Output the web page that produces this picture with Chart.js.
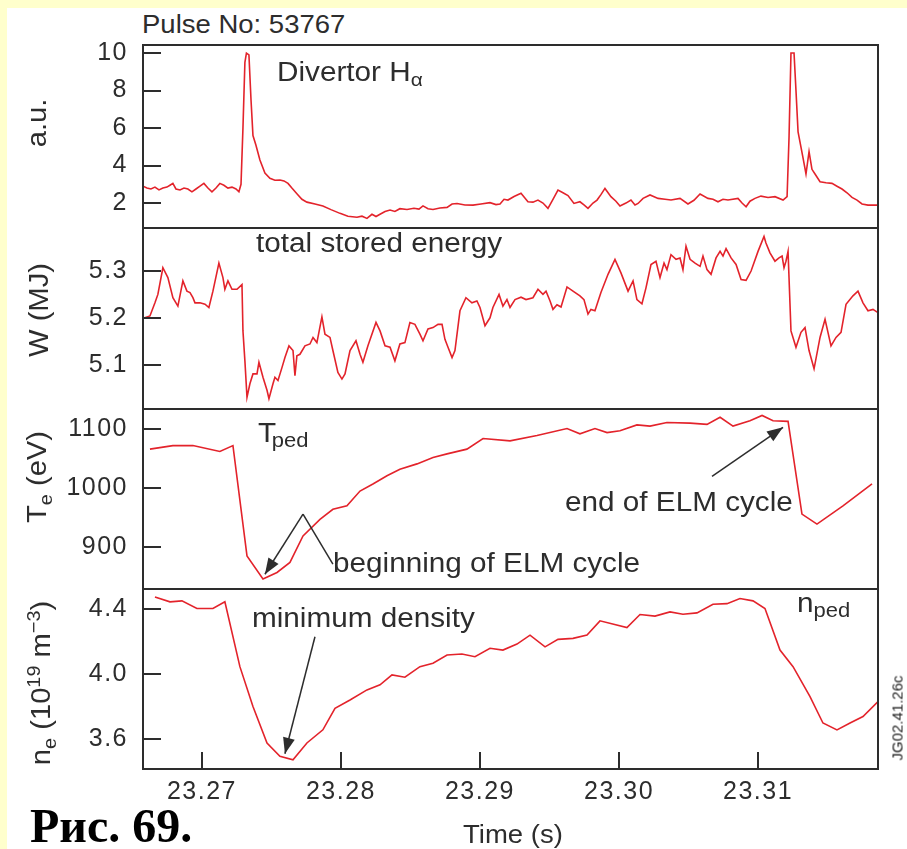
<!DOCTYPE html>
<html>
<head>
<meta charset="utf-8">
<script src="https://cdn.jsdelivr.net/npm/chart.js@4.4.1/dist/chart.umd.min.js"></script>
<style>
  html, body { margin: 0; padding: 0; }
  body { width: 907px; height: 849px; position: relative; overflow: hidden; background: #ffffcc; }
  #sheet { position: absolute; left: 7px; top: 8px; width: 900px; height: 841px; background: #fff; }
  canvas { position: absolute; left: 0; }
  .lbl, .ytitle {
    position: absolute; white-space: nowrap; line-height: 1; color: #2d2d2d;
    font-family: 'Liberation Sans', Arial, Helvetica, sans-serif; font-size: 27px;
  }
  .lbl { transform: scaleX(1.1); transform-origin: 0 0; }
  .ytitle { transform: translate(-50%, -50%) rotate(-90deg) scaleX(1.08); }
  .s { position: relative; top: 5px; font-size: 20px; }
  .ytitle sub, .ytitle sup { font-size: 0.68em; line-height: 0; }
  #fig { position: absolute; left: 30px; top: 802px; font-family: 'Liberation Serif', 'Times New Roman', serif;
         font-weight: bold; font-size: 48px; line-height: 1; color: #000; white-space: nowrap; }
  #code { position: absolute; left: 897px; top: 718px; transform: translate(-50%, -50%) rotate(-90deg);
          font-family: 'Liberation Sans', Arial, sans-serif; font-size: 15px; line-height: 1; color: #222; white-space: nowrap; }
</style>
</head>
<body>
<div id="sheet"></div>
<canvas id="cHa" width="907" height="193" style="top:40px;width:907px;height:193px"></canvas>
<canvas id="cW" width="907" height="191" style="top:223px;width:907px;height:191px"></canvas>
<canvas id="cTe" width="907" height="190" style="top:404px;width:907px;height:190px"></canvas>
<canvas id="cNe" width="907" height="265" style="top:584px;width:907px;height:265px"></canvas>

<div class="lbl" style="left:142px;top:12px;font-size:25px">Pulse No: 53767</div>
<div class="lbl" style="left:277px;top:59px">Divertor H<span class="s" style="font-size:19px">α</span></div>
<div class="lbl" style="left:256px;top:230px">total stored energy</div>
<div class="lbl" style="left:258px;top:420px">T<span class="s" style="margin-left:-4px">ped</span></div>
<div class="lbl" style="left:333px;top:550px">beginning of ELM cycle</div>
<div class="lbl" style="left:565px;top:489px">end of ELM cycle</div>
<div class="lbl" style="left:252px;top:605px">minimum density</div>
<div class="lbl" style="left:797px;top:590px">n<span class="s">ped</span></div>
<div class="lbl" style="left:463px;top:822px;font-size:25px">Time (s)</div>

<div class="ytitle" style="left:37px;top:123px">a.u.</div>
<div class="ytitle" style="left:39px;top:310px">W (MJ)</div>
<div class="ytitle" style="left:37px;top:477px">T<sub>e</sub> (eV)</div>
<div class="ytitle" style="left:41px;top:683px">n<sub>e</sub> (10<sup>19</sup> m<sup>−3</sup>)</div>

<div id="code">JG02.41.26c</div>
<div id="fig">Рис. 69.</div>

<script>
'use strict';

const FONT = "'Liberation Sans', Arial, Helvetica, sans-serif";
const INK = '#2d2d2d';
const RED = '#e3232b';

const X_MIN = 23.26576;
const X_MAX = 23.31863;
const timeTicks = [23.27, 23.28, 23.29, 23.30, 23.31];

// Divertor H-alpha (a.u.)
const haTime = [
  23.26576, 23.26604, 23.26633, 23.26662, 23.26691, 23.26719, 23.26748, 23.26770, 23.26791, 23.26813,
  23.26842, 23.26871, 23.26899, 23.26928, 23.26957, 23.26986, 23.27014, 23.27043, 23.27072, 23.27101,
  23.27129, 23.27158, 23.27187, 23.27216, 23.27245, 23.27266, 23.27281, 23.27295, 23.27309, 23.27320,
  23.27338, 23.27353, 23.27367, 23.27388, 23.27417, 23.27453, 23.27489, 23.27525, 23.27561, 23.27590,
  23.27619, 23.27647, 23.27683, 23.27719, 23.27755, 23.27813, 23.27870, 23.27928, 23.27993, 23.28050,
  23.28115, 23.28151, 23.28187, 23.28223, 23.28252, 23.28281, 23.28317, 23.28353, 23.28388, 23.28424,
  23.28475, 23.28525, 23.28561, 23.28590, 23.28626, 23.28662, 23.28712, 23.28763, 23.28799, 23.28835,
  23.28892, 23.28950, 23.29007, 23.29072, 23.29115, 23.29144, 23.29173, 23.29201, 23.29245, 23.29295,
  23.29345, 23.29381, 23.29417, 23.29453, 23.29489, 23.29525, 23.29561, 23.29597, 23.29633, 23.29676,
  23.29719, 23.29748, 23.29777, 23.29813, 23.29842, 23.29870, 23.29899, 23.29942, 23.29978, 23.30007,
  23.30050, 23.30086, 23.30115, 23.30137, 23.30173, 23.30223, 23.30281, 23.30331, 23.30374, 23.30439,
  23.30496, 23.30539, 23.30583, 23.30640, 23.30676, 23.30712, 23.30748, 23.30784, 23.30856, 23.30885,
  23.30914, 23.30942, 23.30978, 23.31021, 23.31072, 23.31122, 23.31180, 23.31209, 23.31223, 23.31237,
  23.31259, 23.31273, 23.31288, 23.31324, 23.31345, 23.31367, 23.31388, 23.31410, 23.31446, 23.31489,
  23.31532, 23.31568, 23.31604, 23.31640, 23.31676, 23.31712, 23.31748, 23.31791, 23.31863,
];
const haValue = [
  2.90, 2.80, 2.75, 2.85, 2.70, 2.80, 2.85, 2.95, 3.05, 2.75,
  2.70, 2.80, 2.75, 2.60, 2.75, 2.90, 3.05, 2.80, 2.60, 2.80,
  3.05, 2.95, 2.80, 2.85, 2.75, 2.60, 3.00, 6.00, 9.50, 10.0,
  9.90, 7.50, 5.60, 5.10, 4.30, 3.60, 3.32, 3.22, 3.23, 3.18,
  3.05, 2.80, 2.50, 2.20, 2.05, 1.95, 1.84, 1.65, 1.45, 1.30,
  1.24, 1.30, 1.18, 1.40, 1.28, 1.40, 1.55, 1.63, 1.55, 1.70,
  1.66, 1.72, 1.68, 1.85, 1.70, 1.66, 1.74, 1.77, 1.95, 1.98,
  1.90, 1.89, 1.95, 2.02, 1.92, 1.95, 2.20, 2.16, 2.35, 2.52,
  2.07, 2.05, 2.16, 2.00, 1.72, 2.20, 2.69, 2.55, 2.40, 1.98,
  2.07, 1.90, 1.72, 2.00, 2.16, 2.45, 2.78, 2.34, 2.10, 1.84,
  2.00, 2.16, 1.90, 1.98, 2.25, 2.43, 2.25, 2.20, 2.16, 2.25,
  1.95, 2.15, 2.48, 2.25, 2.20, 2.07, 2.20, 2.16, 2.25, 2.00,
  1.80, 2.10, 2.25, 2.37, 2.30, 2.34, 2.16, 2.34, 5.50, 10.0,
  10.0, 8.00, 5.80, 4.40, 3.55, 4.74, 3.80, 3.55, 3.14, 3.08,
  3.05, 2.90, 2.75, 2.55, 2.30, 2.16, 1.95, 1.89, 1.89,
];

// total stored energy W (MJ)
const wTime = [
  23.26576, 23.26626, 23.26662, 23.26683, 23.26719, 23.26755, 23.26791, 23.26827, 23.26863, 23.26892,
  23.26914, 23.26935, 23.26950, 23.26986, 23.27022, 23.27050, 23.27079, 23.27122, 23.27151, 23.27165,
  23.27187, 23.27216, 23.27252, 23.27288, 23.27295, 23.27309, 23.27324, 23.27345, 23.27367, 23.27396,
  23.27410, 23.27439, 23.27468, 23.27482, 23.27511, 23.27525, 23.27547, 23.27576, 23.27597, 23.27626,
  23.27655, 23.27669, 23.27683, 23.27705, 23.27741, 23.27777, 23.27799, 23.27827, 23.27863, 23.27885,
  23.27921, 23.27942, 23.27978, 23.28007, 23.28029, 23.28065, 23.28108, 23.28137, 23.28158, 23.28194,
  23.28252, 23.28281, 23.28317, 23.28353, 23.28388, 23.28424, 23.28460, 23.28496, 23.28532, 23.28568,
  23.28590, 23.28626, 23.28662, 23.28698, 23.28727, 23.28748, 23.28770, 23.28799, 23.28820, 23.28856,
  23.28899, 23.28942, 23.28978, 23.29000, 23.29036, 23.29072, 23.29093, 23.29137, 23.29165, 23.29194,
  23.29216, 23.29252, 23.29295, 23.29331, 23.29381, 23.29417, 23.29453, 23.29475, 23.29504, 23.29525,
  23.29554, 23.29583, 23.29626, 23.29669, 23.29719, 23.29748, 23.29777, 23.29798, 23.29827, 23.29870,
  23.29921, 23.29971, 23.30014, 23.30065, 23.30101, 23.30129, 23.30165, 23.30194, 23.30230, 23.30266,
  23.30295, 23.30324, 23.30345, 23.30374, 23.30410, 23.30439, 23.30460, 23.30482, 23.30511, 23.30547,
  23.30583, 23.30604, 23.30633, 23.30662, 23.30698, 23.30727, 23.30748, 23.30770, 23.30806, 23.30842,
  23.30878, 23.30914, 23.30950, 23.31000, 23.31043, 23.31057, 23.31086, 23.31122, 23.31151, 23.31173,
  23.31187, 23.31201, 23.31216, 23.31237, 23.31273, 23.31309, 23.31338, 23.31367, 23.31403, 23.31446,
  23.31482, 23.31525, 23.31561, 23.31597, 23.31633, 23.31683, 23.31719, 23.31755, 23.31791, 23.31827,
  23.31863,
];
const wValue = [
  5.200, 5.205, 5.233, 5.251, 5.308, 5.287, 5.244, 5.226, 5.280, 5.258,
  5.255, 5.244, 5.233, 5.233, 5.230, 5.223, 5.258, 5.318, 5.287, 5.262,
  5.280, 5.262, 5.262, 5.272, 5.173, 5.109, 5.031, 5.060, 5.081, 5.081,
  5.106, 5.074, 5.046, 5.028, 5.060, 5.074, 5.067, 5.095, 5.116, 5.141,
  5.131, 5.077, 5.120, 5.123, 5.141, 5.145, 5.159, 5.148, 5.203, 5.166,
  5.159, 5.131, 5.084, 5.070, 5.081, 5.131, 5.152, 5.123, 5.106, 5.141,
  5.191, 5.173, 5.141, 5.138, 5.109, 5.145, 5.148, 5.191, 5.187, 5.166,
  5.152, 5.177, 5.180, 5.187, 5.187, 5.155, 5.138, 5.116, 5.131, 5.216,
  5.244, 5.233, 5.237, 5.223, 5.184, 5.201, 5.223, 5.251, 5.226, 5.240,
  5.223, 5.240, 5.245, 5.240, 5.244, 5.262, 5.251, 5.258, 5.237, 5.219,
  5.229, 5.224, 5.267, 5.258, 5.248, 5.240, 5.209, 5.219, 5.216, 5.255,
  5.294, 5.326, 5.297, 5.258, 5.280, 5.240, 5.231, 5.265, 5.315, 5.322,
  5.287, 5.318, 5.304, 5.336, 5.326, 5.329, 5.304, 5.354, 5.326, 5.318,
  5.311, 5.333, 5.304, 5.294, 5.329, 5.343, 5.333, 5.349, 5.329, 5.315,
  5.283, 5.281, 5.301, 5.343, 5.375, 5.361, 5.340, 5.322, 5.329, 5.333,
  5.308, 5.322, 5.343, 5.173, 5.138, 5.170, 5.180, 5.131, 5.092, 5.159,
  5.198, 5.141, 5.159, 5.170, 5.230, 5.248, 5.258, 5.233, 5.216, 5.219,
  5.212,
];

// pedestal electron temperature (eV)
const teTime = [
  23.26626, 23.26791, 23.26935, 23.27129, 23.27223, 23.27324, 23.27439, 23.27540, 23.27633, 23.27727,
  23.27849, 23.27942, 23.28043, 23.28137, 23.28230, 23.28331, 23.28424, 23.28547, 23.28662, 23.28763,
  23.28906, 23.29022, 23.29216, 23.29410, 23.29626, 23.29719, 23.29827, 23.29914, 23.30007, 23.30129,
  23.30223, 23.30345, 23.30511, 23.30633, 23.30727, 23.30820, 23.30942, 23.31029, 23.31108, 23.31216,
  23.31316, 23.31424, 23.31611, 23.31820,
];
const teValue = [
  1066, 1072, 1072, 1062, 1072, 885, 846, 857, 874, 919,
  947, 964, 970, 995, 1007, 1021, 1032, 1041, 1052, 1058,
  1066, 1084, 1080, 1089, 1101, 1092, 1101, 1094, 1097, 1107,
  1105, 1111, 1110, 1108, 1120, 1105, 1114, 1123, 1114, 1113,
  956, 939, 970, 1007,
];

// pedestal electron density (1e19 m^-3)
const neTime = [
  23.26662, 23.26770, 23.26856, 23.26964, 23.27079, 23.27165, 23.27273, 23.27367, 23.27468, 23.27561,
  23.27655, 23.27755, 23.27870, 23.27957, 23.28065, 23.28187, 23.28281, 23.28367, 23.28460, 23.28568,
  23.28662, 23.28763, 23.28870, 23.28964, 23.29072, 23.29165, 23.29266, 23.29360, 23.29468, 23.29561,
  23.29669, 23.29770, 23.29863, 23.30057, 23.30151, 23.30259, 23.30367, 23.30460, 23.30561, 23.30676,
  23.30777, 23.30870, 23.30964, 23.31050, 23.31158, 23.31252, 23.31374, 23.31467, 23.31568, 23.31662,
  23.31755, 23.31863,
];
const neValue = [
  4.474, 4.444, 4.450, 4.403, 4.403, 4.444, 4.045, 3.800, 3.575, 3.493,
  3.472, 3.575, 3.656, 3.789, 3.840, 3.902, 3.933, 3.994, 3.980, 4.045,
  4.066, 4.117, 4.123, 4.106, 4.158, 4.147, 4.184, 4.239, 4.167, 4.213,
  4.219, 4.239, 4.327, 4.286, 4.366, 4.356, 4.382, 4.368, 4.376, 4.429,
  4.433, 4.464, 4.450, 4.403, 4.147, 4.045, 3.861, 3.698, 3.656, 3.698,
  3.738, 3.830,
];

const haTicks = [2, 4, 6, 8, 10];
const wTicks = [5.1, 5.2, 5.3];
const teTicks = [900, 1000, 1100];
const neTicks = [3.6, 4.0, 4.4];

function drawArrow(ctx, x0, y0, x1, y1, head) {
  ctx.beginPath();
  ctx.moveTo(x0, y0);
  ctx.lineTo(x1, y1);
  ctx.stroke();
  if (!head) return;
  const ang = Math.atan2(y1 - y0, x1 - x0);
  const len = 16;
  const half = 6;
  const bx = x1 - len * Math.cos(ang);
  const by = y1 - len * Math.sin(ang);
  ctx.beginPath();
  ctx.moveTo(x1, y1);
  ctx.lineTo(bx + half * Math.sin(ang), by - half * Math.cos(ang));
  ctx.lineTo(bx - half * Math.sin(ang), by + half * Math.cos(ang));
  ctx.closePath();
  ctx.fill();
}

const framePlugin = {
  id: 'frame',
  beforeDraw(chart) {
    chart.ctx.letterSpacing = '1.5px';
  },
  afterDatasetsDraw(chart, args, opts) {
    const { ctx, chartArea: a, scales } = chart;
    ctx.save();
    ctx.strokeStyle = INK;
    ctx.fillStyle = INK;
    ctx.lineWidth = 2;
    ctx.strokeRect(a.left, a.top, a.right - a.left, a.bottom - a.top);
    ctx.beginPath();
    scales.y.ticks.forEach(t => {
      const y = Math.round(scales.y.getPixelForValue(t.value));
      ctx.moveTo(a.left, y);
      ctx.lineTo(a.left + 18, y);
    });
    if (scales.x.options.display) {
      scales.x.ticks.forEach(t => {
        const x = Math.round(scales.x.getPixelForValue(t.value));
        ctx.moveTo(x, a.bottom);
        ctx.lineTo(x, a.bottom - 17);
      });
    }
    ctx.stroke();
    ctx.lineWidth = 1.5;
    (opts.arrows || []).forEach(ar => {
      drawArrow(ctx,
        scales.x.getPixelForValue(ar.from[0]), scales.y.getPixelForValue(ar.from[1]),
        scales.x.getPixelForValue(ar.to[0]), scales.y.getPixelForValue(ar.to[1]),
        ar.head);
    });
    ctx.restore();
  },
};

function makePanel(id, times, values, yMin, yMax, yTicks, fmt, extra) {
  const showX = !!extra.showX;
  return new Chart(document.getElementById(id), {
    type: 'line',
    data: {
      datasets: [{
        data: times.map((t, i) => ({ x: t, y: values[i] })),
        borderColor: RED,
        borderWidth: 1.6,
        pointRadius: 0,
        tension: 0,
        fill: false,
      }],
    },
    options: {
      responsive: false,
      animation: false,
      events: [],
      layout: { padding: { left: 0, right: 29, top: 5, bottom: showX ? 0 : 5 } },
      plugins: {
        legend: { display: false },
        tooltip: { enabled: false },
        frame: { arrows: extra.arrows || [] },
      },
      scales: {
        x: {
          type: 'linear',
          min: X_MIN,
          max: X_MAX,
          display: showX,
          afterFit(s) {
            s.height = showX ? 80 : 0;
            s.paddingLeft = 0;
            s.paddingRight = 0;
          },
          afterBuildTicks(s) { s.ticks = timeTicks.map(v => ({ value: v })); },
          grid: { display: false, drawTicks: false },
          border: { display: false },
          ticks: {
            color: INK,
            font: { family: FONT, size: 25 },
            padding: 8,
            maxRotation: 0,
            autoSkip: false,
            callback: v => v.toFixed(2),
          },
        },
        y: {
          type: 'linear',
          min: yMin,
          max: yMax,
          afterFit(s) {
            s.width = 143;
            s.paddingTop = 0;
            s.paddingBottom = 0;
          },
          afterBuildTicks(s) { s.ticks = yTicks.map(v => ({ value: v })); },
          grid: { display: false, drawTicks: false },
          border: { display: false },
          ticks: {
            color: INK,
            font: { family: FONT, size: 25 },
            padding: 15,
            autoSkip: false,
            callback: fmt,
          },
        },
      },
    },
    plugins: [framePlugin],
  });
}

makePanel('cHa', haTime, haValue, 0.67, 10.43, haTicks, v => String(v), {});
makePanel('cW', wTime, wValue, 5.006, 5.393, wTicks, v => v.toFixed(1), {});
makePanel('cTe', teTime, teValue, 829, 1134, teTicks, v => String(v), {
  arrows: [
    { from: [23.27942, 871], to: [23.27727, 956], head: false },
    { from: [23.27727, 956], to: [23.27453, 854], head: true },
    { from: [23.30669, 1020], to: [23.31180, 1103], head: true },
  ],
});
makePanel('cNe', neTime, neValue, 3.415, 4.523, neTicks, v => v.toFixed(1), {
  showX: true,
  arrows: [
    { from: [23.27813, 4.229], to: [23.27597, 3.509], head: true },
  ],
});
</script>
</body>
</html>
